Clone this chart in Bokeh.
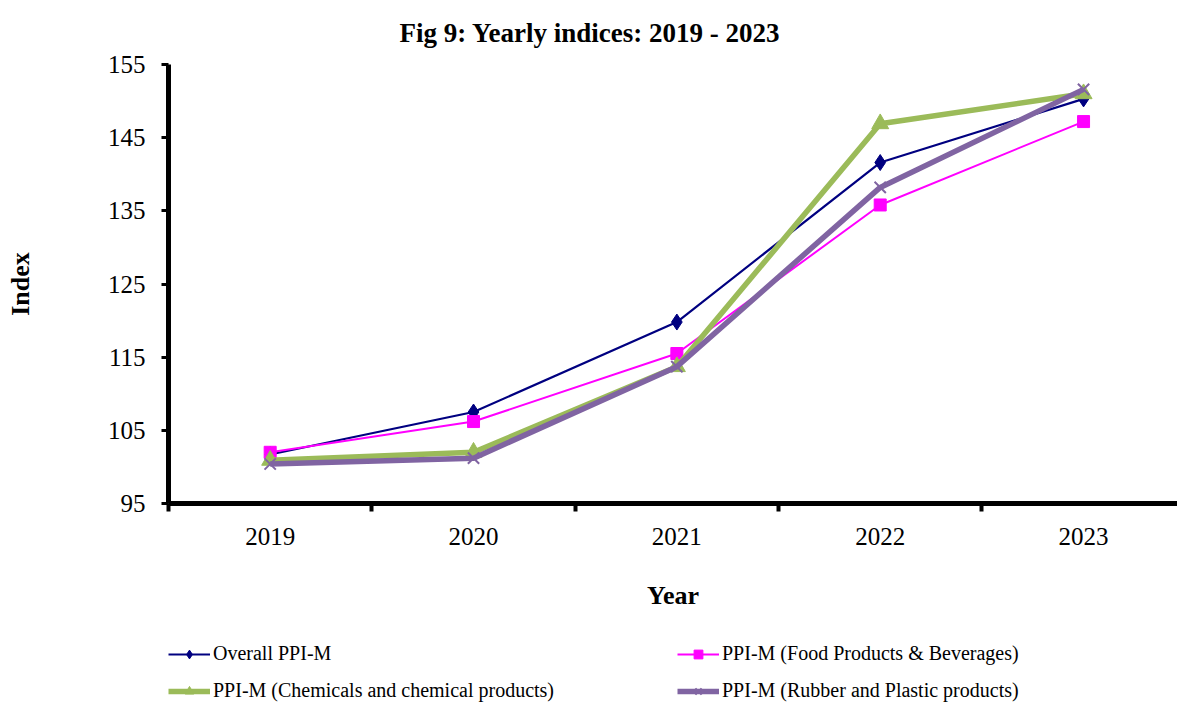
from bokeh.plotting import figure
from bokeh.layouts import column
from bokeh.models import Range1d, FixedTicker, Legend, LegendItem
from bokeh.embed import file_html
from bokeh.resources import INLINE

years = ["2019", "2020", "2021", "2022", "2023"]
overall = [101.7, 107.5, 119.8, 141.6, 150.3]
food = [102.0, 106.2, 115.5, 135.8, 147.2]
chem = [100.9, 102.0, 113.7, 146.9, 151.0]
rubber = [100.4, 101.2, 113.7, 138.2, 151.6]
y_ticks = [95, 105, 115, 125, 135, 145, 155]
names = [
    "Overall PPI-M",
    "PPI-M (Food Products & Beverages)",
    "PPI-M (Chemicals and chemical products)",
    "PPI-M (Rubber and Plastic products)",
]

FONT = "Liberation Serif"
x = list(range(len(years)))
bounds = [i - 0.5 for i in range(len(years) + 1)]
series = [overall, food, chem, rubber]
styles = [
    dict(color="#000080", lw=2.2, marker="diamond", size=16, mlw=1),
    dict(color="#FF00FF", lw=2, marker="square", size=12, mlw=1),
    dict(color="#9BBB59", lw=5.5, marker="triangle", size=17, mlw=1),
    dict(color="#8064A2", lw=5.5, marker="x", size=16, mlw=2),
]

p = figure(
    frame_width=1009, frame_height=439,
    x_range=Range1d(-0.5, 4.462), y_range=Range1d(95, 155),
    output_backend="svg", toolbar_location=None,
    min_border_left=168, min_border_right=0, min_border_top=64, min_border_bottom=137,
    title="Fig 9: Yearly indices: 2019 - 2023",
)
p.outline_line_color = None
p.xgrid.visible = False
p.ygrid.visible = False
p.background_fill_color = "white"

p.title.text_font = FONT
p.title.text_font_size = "27px"
p.title.text_font_style = "bold"
p.title.text_color = "black"
p.title.align = "left"
p.title.offset = 231
p.title.vertical_align = "top"
p.title.standoff = 30

# y axis
ya = p.yaxis[0]
ya.ticker = FixedTicker(ticks=y_ticks, minor_ticks=[])
ya.axis_line_width = 5
ya.axis_line_color = "black"
ya.major_tick_out = 7
ya.major_tick_in = 0
ya.major_tick_line_width = 3
ya.minor_tick_out = 0
ya.minor_tick_in = 0
ya.major_label_text_font = FONT
ya.major_label_text_font_size = "25px"
ya.major_label_text_color = "black"
ya.major_label_standoff = 16
ya.axis_label = "Index"
ya.axis_label_text_font = FONT
ya.axis_label_text_font_size = "26px"
ya.axis_label_text_font_style = "bold"
ya.axis_label_text_color = "black"
ya.axis_label_standoff = 70

# x axis
xa = p.xaxis[0]
xa.ticker = FixedTicker(ticks=x, minor_ticks=bounds)
xa.major_label_overrides = {i: y for i, y in zip(x, years)}
xa.axis_line_width = 5
xa.axis_line_color = "black"
xa.major_tick_out = 0
xa.major_tick_in = 0
xa.minor_tick_out = 8
xa.minor_tick_in = 0
xa.minor_tick_line_width = 4
xa.minor_tick_line_color = "black"
xa.major_label_text_font = FONT
xa.major_label_text_font_size = "25px"
xa.major_label_text_color = "black"
xa.major_label_standoff = 16
xa.axis_label = "Year"
xa.axis_label_text_font = FONT
xa.axis_label_text_font_size = "26px"
xa.axis_label_text_font_style = "bold"
xa.axis_label_text_color = "black"
xa.axis_label_standoff = 33


def draw(fig, ys, st):
    ln = fig.line(x, ys, line_color=st["color"], line_width=st["lw"])
    if st["marker"] == "x":
        sc = fig.scatter(x, ys, marker="x", size=st["size"], line_color=st["color"],
                         line_width=st["mlw"])
    else:
        sc = fig.scatter(x, ys, marker=st["marker"], size=st["size"], color=st["color"])
    return ln, sc


for ys, st in zip(series, styles):
    draw(p, ys, st)

# legend strip below the chart (same series, drawn outside its view)
p2 = figure(
    width=1177, height=62, x_range=Range1d(100, 101), y_range=Range1d(0, 1),
    output_backend="svg", toolbar_location=None,
    x_axis_location=None, y_axis_location=None,
    min_border_left=0, min_border_right=0, min_border_top=0, min_border_bottom=0,
)
p2.outline_line_color = None
p2.xgrid.visible = False
p2.ygrid.visible = False
p2.background_fill_color = "white"

items = []
for name, ys, st in zip(names, series, styles):
    ln, sc = draw(p2, ys, st)
    items.append(LegendItem(label=name, renderers=[ln, sc]))

legend = Legend(
    items=items,
    orientation="horizontal", ncols=2,
    location=(0, 0),
    label_text_font=FONT, label_text_font_size="20px", label_text_color="black",
    glyph_width=42, glyph_height=22, label_height=22, label_width=450,
    label_standoff=3, spacing=14, padding=0, margin=0,
    border_line_color=None, background_fill_alpha=0,
)
p2.add_layout(legend, "center")

layout = column(p, p2, spacing=0)
open("out.html", "w").write(file_html(layout, INLINE))
